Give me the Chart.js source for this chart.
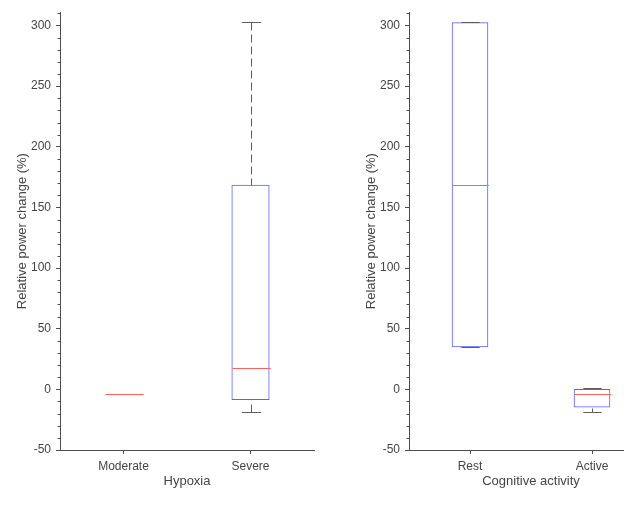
<!DOCTYPE html>
<html>
<head>
<meta charset="utf-8">
<script src="https://cdn.jsdelivr.net/npm/chart.js@4/dist/chart.umd.min.js"></script>
<style>
  html, body { margin: 0; padding: 0; background: #fff; }
  #wrap { position: relative; width: 624px; height: 519px; overflow: hidden; }
  #wrap canvas { position: absolute; top: 0; }
</style>
</head>
<body>
<div id="wrap">
  <canvas id="hypoxiaChart" width="330" height="519" style="left:0"></canvas>
  <canvas id="activityChart" width="330" height="519" style="left:349px"></canvas>
</div>
<script>
// box plot statistics
const hypoxiaLabels = ['Moderate', 'Severe'];
const hypoxiaMin = [-3.8, -19];
const hypoxiaQ1 = [-3.8, -8.7];
const hypoxiaMedian = [-3.8, 18];
const hypoxiaQ3 = [-3.8, 168.7];
const hypoxiaMax = [-3.8, 302.8];

const activityLabels = ['Rest', 'Active'];
const activityMin = [34.8, -19];
const activityQ1 = [34.8, -15];
const activityMedian = [168.7, -3.8];
const activityQ3 = [302.7, 0.3];
const activityMax = [302.7, 1.4];

const yMajorTicks = [-50, 0, 50, 100, 150, 200, 250, 300];
const yMinorTicks = [-40, -30, -20, -10, 10, 20, 30, 40, 60, 70, 80, 90, 110, 120, 130, 140,
  160, 170, 180, 190, 210, 220, 230, 240, 260, 270, 280, 290, 310];

const axisColor = '#4d4d4d';
const textColor = '#454545';
const boxColor = '#5e5eff';
const medianColor = '#ff6060';
const whiskerColor = '#5e5e5e';

Chart.defaults.font.family = '"Liberation Sans", Arial, sans-serif';
Chart.defaults.color = textColor;

// draws whiskers, caps, medians and the minor y ticks using the chart scales
function boxParts(stats) {
  return {
    id: 'boxParts',
    afterDatasetsDraw(chart) {
      const { ctx, scales: { y }, chartArea } = chart;
      const meta = chart.getDatasetMeta(0);
      const py = v => Math.round(y.getPixelForValue(v)) + 0.5;
      const line = (x1, y1, x2, y2) => {
        ctx.beginPath();
        ctx.moveTo(x1, y1);
        ctx.lineTo(x2, y2);
        ctx.stroke();
      };
      ctx.save();
      ctx.lineWidth = 1;
      meta.data.forEach((bar, i) => {
        const cx = Math.round(bar.x) + 0.5;
        const half = bar.width / 2;
        const cap = bar.width / 4;
        const yMax = py(stats.max[i]);
        const yQ3 = py(stats.q3[i]);
        const yQ1 = py(stats.q1[i]);
        const yMin = py(stats.min[i]);
        const yMed = py(stats.median[i]);
        ctx.strokeStyle = whiskerColor;
        ctx.setLineDash([8, 4]);
        if (yQ3 - yMax > 1) line(cx, yMax, cx, yQ3);
        if (yMin - yQ1 > 1) line(cx, yMin, cx, yQ1);
        ctx.setLineDash([]);
        if (yMax !== yMed) line(cx - cap, yMax, cx + cap, yMax);
        if (yMin !== yMed) line(cx - cap, yMin, cx + cap, yMin);
        ctx.strokeStyle = medianColor;
        line(cx - half, yMed, cx + half, yMed);
      });
      ctx.strokeStyle = axisColor;
      yMinorTicks.forEach(v => {
        line(chartArea.left - 2.5, py(v), chartArea.left, py(v));
      });
      ctx.restore();
    }
  };
}

function makeBoxChart(canvasId, labels, stats, xTitle, rightPad) {
  const ctx = document.getElementById(canvasId).getContext('2d');
  return new Chart(ctx, {
    type: 'bar',
    data: {
      labels: labels,
      datasets: [{
        data: stats.q1.map((q, i) => [q, stats.q3[i]]),
        backgroundColor: 'rgba(0,0,0,0)',
        borderColor: boxColor,
        borderWidth: 1,
        borderSkipped: false,
        barPercentage: 0.3,
        categoryPercentage: 1
      }]
    },
    options: {
      responsive: false,
      animation: false,
      layout: { padding: { top: 10, right: rightPad, bottom: 0, left: 0 } },
      plugins: { legend: { display: false }, tooltip: { enabled: false } },
      scales: {
        x: {
          offset: true,
          grid: { display: true, offset: false, drawOnChartArea: false, tickLength: 4, tickColor: axisColor },
          border: { color: axisColor, width: 1 },
          ticks: { padding: 5, maxRotation: 0, font: { size: 12 } },
          title: { display: true, text: xTitle, font: { size: 13 }, padding: { top: 0, bottom: 30 } },
          afterFit: s => { s.height = 69; }
        },
        y: {
          min: -50,
          max: 311,
          afterBuildTicks: s => { s.ticks = yMajorTicks.map(v => ({ value: v })); },
          grid: { drawOnChartArea: false, tickLength: 4, tickColor: axisColor },
          border: { color: axisColor, width: 1 },
          ticks: { padding: 5, font: { size: 12 } },
          title: { display: true, text: 'Relative power change (%)', font: { size: 13 }, padding: { top: 15, bottom: 0 } },
          afterFit: s => { s.width = 60; }
        }
      }
    },
    plugins: [boxParts(stats)]
  });
}

makeBoxChart('hypoxiaChart', hypoxiaLabels,
  { min: hypoxiaMin, q1: hypoxiaQ1, median: hypoxiaMedian, q3: hypoxiaQ3, max: hypoxiaMax },
  'Hypoxia', 16);

makeBoxChart('activityChart', activityLabels,
  { min: activityMin, q1: activityQ1, median: activityMedian, q3: activityQ3, max: activityMax },
  'Cognitive activity', 26);
</script>
</body>
</html>
